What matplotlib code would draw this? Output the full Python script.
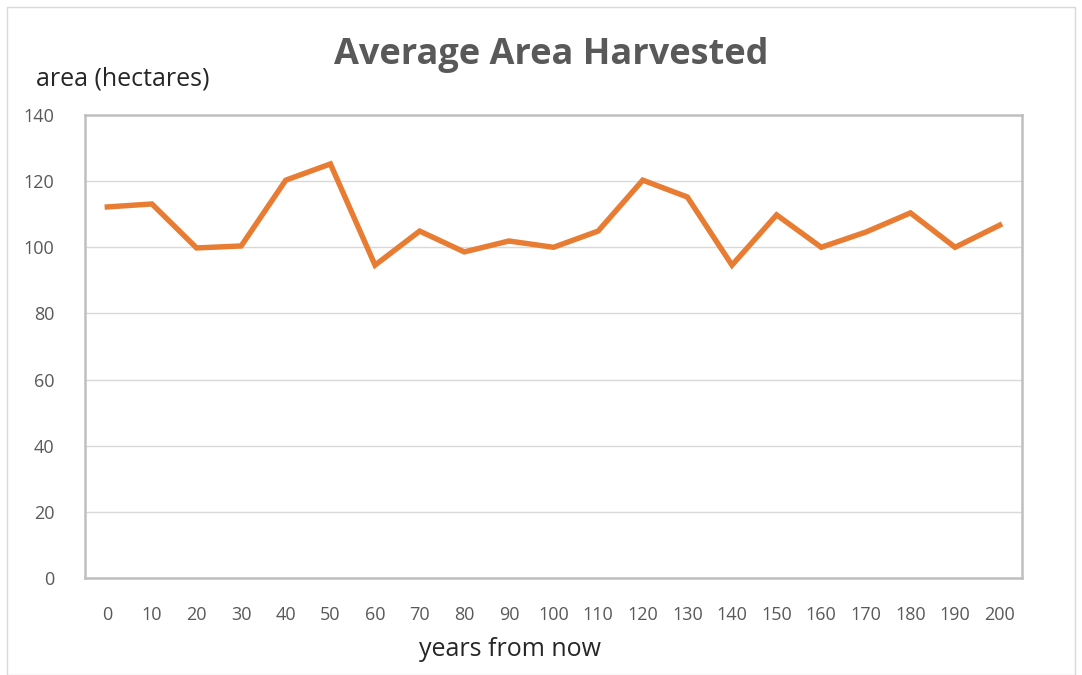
import matplotlib
matplotlib.use("Agg")
import matplotlib.pyplot as plt
from matplotlib.patches import Rectangle

years = [0, 10, 20, 30, 40, 50, 60, 70, 80, 90, 100, 110, 120, 130, 140, 150, 160, 170, 180, 190, 200]
area = [112.2, 113.1, 99.8, 100.4, 120.3, 125.2, 94.6, 104.9, 98.6, 101.9, 100.0, 104.9,
        120.3, 115.2, 94.6, 109.8, 100.0, 104.6, 110.4, 100.0, 106.7]
yticks = [0, 20, 40, 60, 80, 100, 120, 140]

font = ["Open Sans", "DejaVu Sans"]
fig = plt.figure(figsize=(10.82, 6.75), dpi=100)
fig.patches.append(Rectangle((7/1082, 0), 1 - 14/1082, 1 - 7/675, transform=fig.transFigure,
                             fill=False, edgecolor="#D9D9D9", linewidth=1))
ax = fig.add_axes([85/1082, 1 - 578/675, (1022 - 85)/1082, (578 - 115)/675])

idx = list(range(len(years)))
ax.plot(idx, area, color="#E87C33", linewidth=3.9, solid_joinstyle="miter", zorder=3)
ax.set_xlim(-0.5, len(years) - 0.5)
ax.set_ylim(0, 140)
ax.set_yticks(yticks)
ax.set_yticklabels([str(v) for v in yticks], fontfamily=font, fontsize=13, color="#595959")
ax.set_xticks(idx)
ax.set_xticklabels([str(v) for v in years], fontfamily=font, fontsize=13, color="#595959")
ax.tick_params(axis="x", length=0, pad=20)
ax.tick_params(axis="y", length=0, pad=22)
ax.grid(axis="y", color="#D9D9D9", linewidth=1)
ax.set_axisbelow(True)
for s in ax.spines.values():
    s.set_color("#BFBFBF")
    s.set_linewidth(1.8)

fig.text(551/1082, 1 - 55/675, "Average Area Harvested", ha="center", va="center",
         fontfamily=font, fontsize=26, fontweight="bold", color="#595959")
fig.text(36/1082, 1 - 79/675, "area (hectares)", ha="left", va="center",
         fontfamily=font, fontsize=18, color="#262626")
fig.text(510/1082, 1 - 650/675, "years from now", ha="center", va="center",
         fontfamily=font, fontsize=18, color="#262626")

fig.savefig("out.png", dpi=100, facecolor="white")
